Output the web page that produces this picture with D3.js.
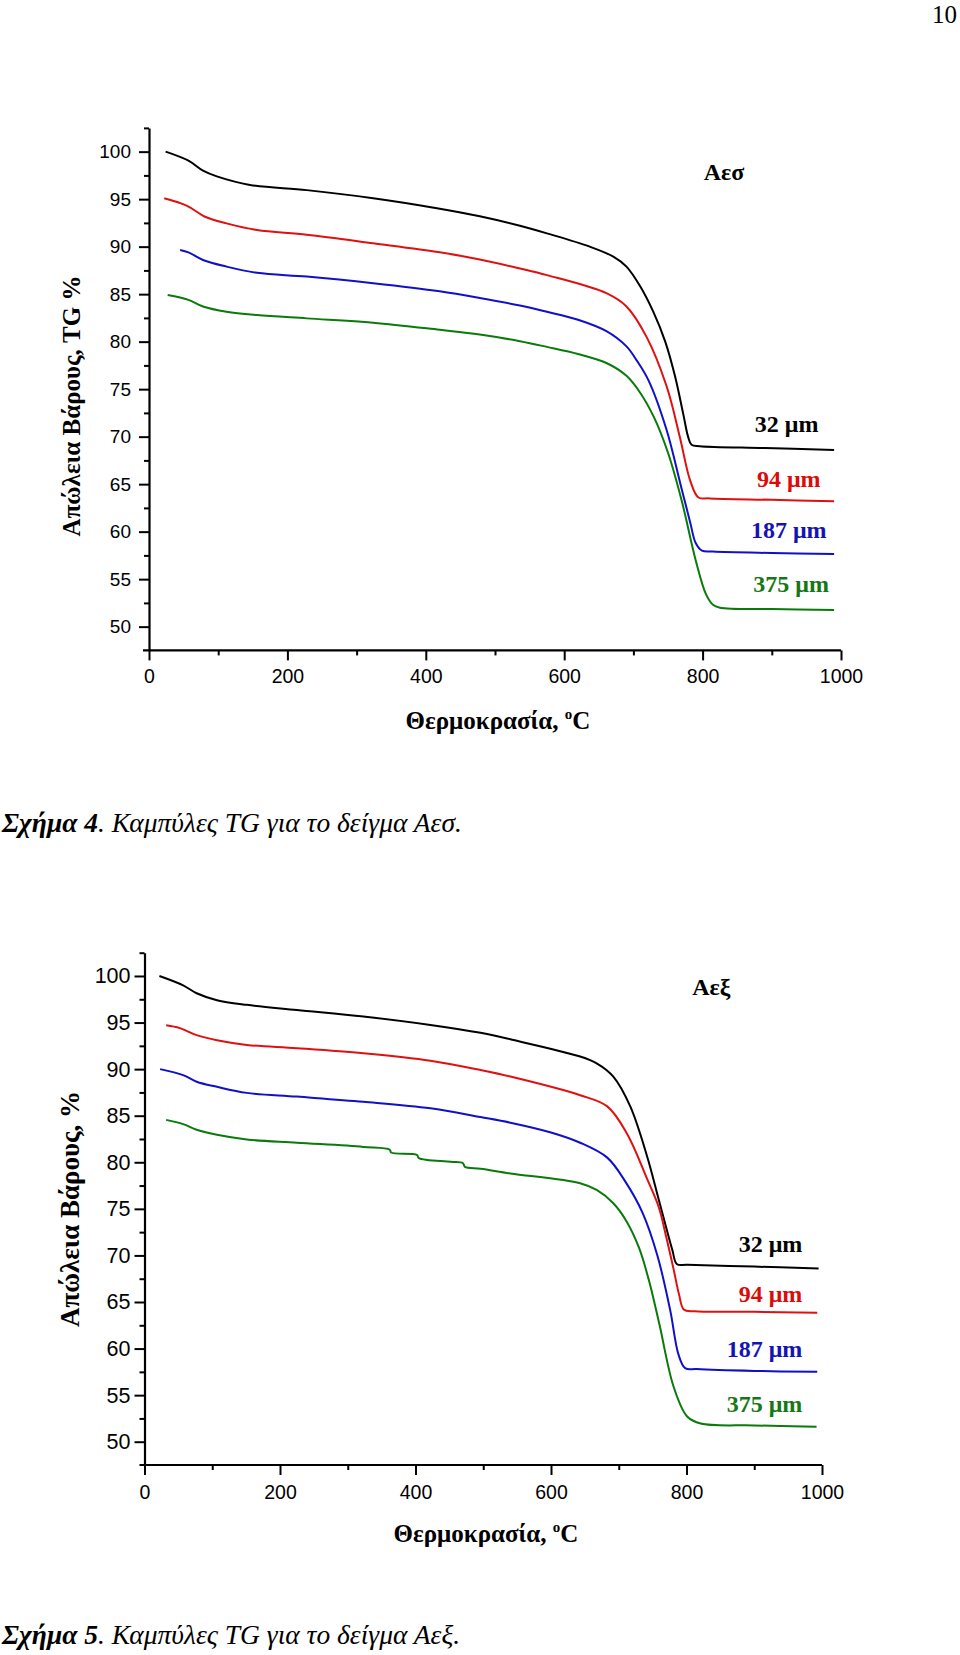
<!DOCTYPE html>
<html><head><meta charset="utf-8">
<script src="https://cdn.jsdelivr.net/npm/d3@7"></script>
<style>body{margin:0;background:#fff} svg{display:block}</style>
</head><body>
<svg id="page" width="960" height="1655"></svg>
<script>
// ---------------- data ----------------
const seriesNames = ["32 μm", "94 μm", "187 μm", "375 μm"];
const xMajorTicks = [0, 200, 400, 600, 800, 1000];
const xMinorTicks = [100, 300, 500, 700, 900];
const yMajorTicks = [50, 55, 60, 65, 70, 75, 80, 85, 90, 95, 100];
const yMinorTicks = [52.5, 57.5, 62.5, 67.5, 72.5, 77.5, 82.5, 87.5, 92.5, 97.5, 102.5];

// Figure 4 (Αεσ): [temperature °C, TG %]
const aes32 = [[24,100.0],[57,99.05],[78,98.0],[98,97.4],[146,96.5],[228,95.95],[324,95.1],[416,94.05],[478,93.2],[536,92.2],[575,91.4],[637,90.0],[671,88.95],[690,87.9],[710,85.8],[729,83.1],[746,80.0],[760,76.4],[772,72.4],[779,70.0],[784,69.15],[796,69.0],[890,68.8],[990,68.6]];
const aes94 = [[22,95.1],[55,94.3],[81,93.15],[112,92.45],[156,91.75],[228,91.25],[324,90.35],[420,89.4],[478,88.65],[536,87.7],[575,87.0],[661,85.1],[690,83.7],[719,80.5],[748,75.3],[767,70.0],[782,65.4],[794,63.6],[810,63.5],[900,63.35],[990,63.2]];
const aes187 = [[45,89.65],[57,89.4],[78,88.6],[112,87.9],[156,87.25],[228,86.85],[324,86.15],[420,85.3],[478,84.6],[536,83.8],[575,83.15],[620,82.3],[661,81.1],[690,79.5],[705,78.0],[722,75.9],[748,70.7],[768,65.0],[782,61.0],[790,58.8],[799,58.0],[815,57.9],[900,57.75],[990,57.65]];
const aes375 = [[27,84.9],[57,84.4],[78,83.7],[112,83.15],[156,82.8],[228,82.45],[324,82.0],[420,81.25],[478,80.75],[536,80.05],[575,79.45],[620,78.7],[661,77.75],[690,76.4],[710,74.6],[730,72.0],[750,68.3],[770,63.2],[790,57.0],[805,53.4],[815,52.3],[825,52.0],[900,51.85],[990,51.75]];

// Figure 5 (Αεξ): [temperature °C, TG %]
const aex32 = [[22,100.0],[57,99.0],[77,98.15],[107,97.4],[151,96.9],[225,96.35],[323,95.65],[422,94.75],[496,93.9],[540,93.2],[643,91.35],[668,90.6],[692,89.2],[717,86.0],[742,80.6],[759,76.0],[779,70.6],[786,69.05],[801,69.0],[900,68.8],[995,68.6]];
const aex94 = [[32,94.7],[52,94.4],[77,93.65],[107,93.1],[151,92.6],[225,92.25],[323,91.7],[422,90.9],[496,89.9],[540,89.2],[643,87.2],[683,86.0],[712,83.1],[742,78.2],[759,75.2],[770,72.0],[781,68.5],[789,65.8],[796,64.2],[812,64.0],[900,63.95],[993,63.85]];
const aex187 = [[23,90.0],[57,89.35],[77,88.65],[107,88.1],[151,87.45],[225,87.05],[323,86.5],[422,85.8],[496,84.85],[540,84.25],[600,83.2],[643,82.1],[683,80.5],[710,77.9],[735,74.6],[757,70.0],[776,64.1],[788,59.4],[798,57.9],[815,57.8],[900,57.6],[993,57.5]];
const aex375 = [[32,84.55],[57,84.1],[77,83.5],[107,82.95],[151,82.45],[225,82.1],[323,81.65],[362,81.35],[364,81.05],[402,80.8],[405,80.45],[452,80.05],[470,79.9],[473,79.5],[496,79.3],[540,78.8],[643,77.75],[668,77.0],[692,75.6],[712,73.6],[730,70.8],[745,67.2],[760,62.6],[781,55.9],[801,52.7],[821,51.95],[900,51.75],[992,51.6]];

// ---------------- layout / style ----------------
const lineColors = ["#000000", "#e01010", "#1010c8", "#0a7a0a"];
const labelColors = ["#000000", "#dd0a0a", "#1414b4", "#147814"];
const serif = "'Liberation Serif','Times New Roman',serif";
const sans = "'Liberation Sans',Arial,sans-serif";

const charts = [
  {
    series: [aes32, aes94, aes187, aes375],
    left: 149, right: 841, top: 127.9, bottom: 650.4, xLineExtra: 6,
    yLabelSize: 19, xLabelSize: 19.5, yPad: 8, xPad: 9,
    yTitle: "Απώλεια Βάρους, TG %", yTitleSize: 25, yTitleX: 80, yTitleY: 406,
    xTitleX: 498, xTitleY: 729, xTitleSize: 25,
    sample: "Αεσ", samplePos: [831, 97.0],
    labelAnchor: "middle", labelPos: [[921.5,70.53],[924.6,64.74],[924.4,59.3],[928,53.6]],
    captionNum: "Σχήμα 4", captionRest: ". Καμπύλες TG για το δείγμα Αεσ.", captionY: 831.7
  },
  {
    series: [aex32, aex94, aex187, aex375],
    left: 144.5, right: 822, top: 952.7, bottom: 1465, xLineExtra: 5,
    yLabelSize: 21.5, xLabelSize: 19.5, yPad: 4, xPad: 10,
    yTitle: "Απώλεια Βάρους, %", yTitleSize: 27, yTitleX: 79, yTitleY: 1209,
    xTitleX: 486, xTitleY: 1542, xTitleSize: 25,
    sample: "Αεξ", samplePos: [836.8, 97.96],
    labelAnchor: "end", labelPos: [[971,70.4],[971,65.03],[971,59.13],[971,53.22]],
    captionNum: "Σχήμα 5", captionRest: ". Καμπύλες TG για το δείγμα Αεξ.", captionY: 1644
  }
];

const svg = d3.select("#page");

// page number
svg.append("text").attr("x", 957).attr("y", 23).attr("text-anchor", "end")
  .style("font-family", serif).style("font-size", "25px").text("10");

charts.forEach(c => {
  const x = d3.scaleLinear().domain([0, 1000]).range([c.left, c.right]);
  const y = d3.scaleLinear().domain([47.5, 102.5]).range([c.bottom, c.top]);
  const g = svg.append("g");

  // x axis
  const xMinor = g.append("g").attr("transform", `translate(0,${c.bottom})`)
    .call(d3.axisBottom(x).tickValues(xMinorTicks).tickSize(5).tickFormat(""));
  xMinor.select(".domain").remove();
  const xAx = g.append("g").attr("transform", `translate(0,${c.bottom})`)
    .call(d3.axisBottom(x).tickValues(xMajorTicks).tickSize(10).tickSizeOuter(0).tickPadding(c.xPad).tickFormat(d3.format("d")));
  xAx.select(".domain").remove();
  g.append("line").attr("x1", c.left - c.xLineExtra).attr("x2", c.right)
    .attr("y1", c.bottom).attr("y2", c.bottom).attr("stroke", "#000").attr("stroke-width", 2.2);
  xAx.selectAll("text").style("font-family", sans).style("font-size", c.xLabelSize + "px").attr("fill", "#000");

  // y axis
  const yMinor = g.append("g").attr("transform", `translate(${c.left},0)`)
    .call(d3.axisLeft(y).tickValues(yMinorTicks).tickSize(5).tickFormat(""));
  yMinor.select(".domain").remove();
  const yAx = g.append("g").attr("transform", `translate(${c.left},0)`)
    .call(d3.axisLeft(y).tickValues(yMajorTicks).tickSize(10).tickSizeOuter(0).tickPadding(c.yPad).tickFormat(d3.format("d")));
  yAx.selectAll("text").style("font-family", sans).style("font-size", c.yLabelSize + "px").attr("fill", "#000");

  g.selectAll(".tick line").attr("stroke", "#000").attr("stroke-width", 2);
  g.selectAll(".domain").attr("stroke", "#000").attr("stroke-width", 2.2);

  // curves
  const line = d3.line().x(d => x(d[0])).y(d => y(d[1])).curve(d3.curveCatmullRom.alpha(0.5));
  c.series.forEach((s, i) => {
    g.append("path").datum(s).attr("d", line).attr("fill", "none")
      .attr("stroke", lineColors[i]).attr("stroke-width", 2).attr("stroke-linejoin", "round");
  });

  // series labels
  c.labelPos.forEach((p, i) => {
    g.append("text").attr("x", x(p[0])).attr("y", y(p[1])).attr("text-anchor", c.labelAnchor)
      .style("font-family", serif).style("font-weight", "bold").style("font-size", "24px")
      .attr("fill", labelColors[i]).text(seriesNames[i]);
  });

  // sample name
  g.append("text").attr("x", x(c.samplePos[0])).attr("y", y(c.samplePos[1])).attr("text-anchor", "middle")
    .style("font-family", serif).style("font-weight", "bold").style("font-size", "24px").text(c.sample);

  // axis titles
  const xt = g.append("text").attr("x", c.xTitleX).attr("y", c.xTitleY).attr("text-anchor", "middle")
    .style("font-family", serif).style("font-weight", "bold").style("font-size", c.xTitleSize + "px");
  xt.append("tspan").text("Θερμοκρασία, ");
  xt.append("tspan").attr("dy", -10).style("font-size", "15px").text("o");
  xt.append("tspan").attr("dy", 10).text("C");

  g.append("text").attr("transform", `translate(${c.yTitleX},${c.yTitleY}) rotate(-90)`)
    .attr("text-anchor", "middle").style("font-family", serif).style("font-weight", "bold")
    .style("font-size", c.yTitleSize + "px").text(c.yTitle);

  // caption
  const cap = svg.append("text").attr("x", 2).attr("y", c.captionY)
    .style("font-family", serif).style("font-size", "27.5px").style("font-style", "italic");
  cap.append("tspan").style("font-weight", "bold").text(c.captionNum);
  cap.append("tspan").text(c.captionRest);
});
</script>
</body></html>
